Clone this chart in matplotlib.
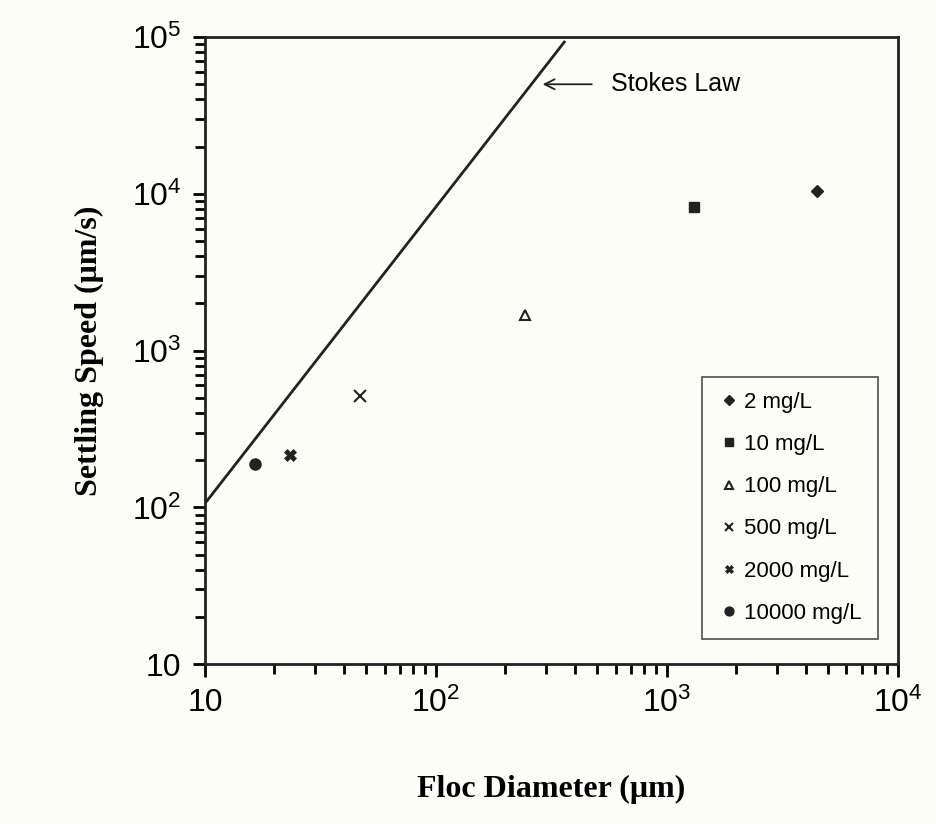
import matplotlib
matplotlib.use('Agg')
from matplotlib import pyplot as plt
from matplotlib.ticker import FixedLocator, FixedFormatter, LogLocator

labels = ["2 mg/L", "10 mg/L", "100 mg/L", "500 mg/L", "2000 mg/L", "10000 mg/L"]
diam = [4460, 1310, 243, 47, 23.3, 16.4]
speed = [10400, 8300, 1690, 516, 215, 189]
markers = ["D", "s", "^", "x", "X", "o"]
msizes = [6, 7, 7, 8, 8, 8]
filled = [True, True, False, False, True, True]

stokes_x = [10.2, 360]
stokes_y = [110, 93000]

plt.rcParams['font.family'] = ['Liberation Sans', 'DejaVu Sans']
plt.rcParams['mathtext.fontset'] = 'custom'
plt.rcParams['mathtext.rm'] = 'Liberation Sans'
plt.rcParams['mathtext.it'] = 'Liberation Sans'
plt.rcParams['mathtext.default'] = 'regular'
fig = plt.figure(figsize=(9.36, 8.24), dpi=100)
fig.patch.set_facecolor('#fdfdf8')
ax = fig.add_axes([0.219, 0.194, 0.74, 0.761])
ax.set_facecolor('#fdfdf8')
ax.set_xscale('log')
ax.set_yscale('log')
ax.set_xlim(10, 1e4)
ax.set_ylim(10, 1e5)

ax.plot(stokes_x, stokes_y, color='#222', lw=2)
for lab, x, y, m, s, f in zip(labels, diam, speed, markers, msizes, filled):
    if m == "X":
        ax.plot(x, y, marker=m, ms=s, color='#222', mfc='#222', mew=0.5, ls='none', label=lab)
    elif f:
        ax.plot(x, y, marker=m, ms=s, color='#222', ls='none', label=lab)
    else:
        ax.plot(x, y, marker=m, ms=s, color='#222', mfc='none', mew=1.5, ls='none', label=lab)

ax.annotate("Stokes Law", xy=(290, 50000), xytext=(575, 50000), fontsize=18,
            va='center', arrowprops=dict(arrowstyle='->', color='#222', lw=1.3,
                                         shrinkB=0, shrinkA=12))

leg = ax.legend(loc='lower right', bbox_to_anchor=(0.987, 0.022), fontsize=16,
                frameon=True, fancybox=False, edgecolor='#222', handletextpad=0.2,
                labelspacing=0.95, borderpad=0.7, handlelength=1.0, markerscale=0.8)
leg.get_frame().set_linewidth(1.2)
leg.get_frame().set_facecolor('#fdfdf8')

ax.xaxis.set_major_locator(FixedLocator([10, 100, 1000, 10000]))
ax.xaxis.set_major_formatter(FixedFormatter(["10", "$10^2$", "$10^3$", "$10^4$"]))
ax.yaxis.set_major_locator(FixedLocator([10, 100, 1000, 1e4, 1e5]))
ax.yaxis.set_major_formatter(FixedFormatter(["10", "$10^2$", "$10^3$", "$10^4$", "$10^5$"]))
ax.xaxis.set_minor_locator(LogLocator(subs=range(2, 10)))
ax.yaxis.set_minor_locator(LogLocator(subs=range(2, 10)))
ax.xaxis.set_minor_formatter(FixedFormatter([]))
ax.yaxis.set_minor_formatter(FixedFormatter([]))
ax.tick_params(which='major', length=9, width=2, labelsize=23, direction='out', pad=8)
ax.tick_params(which='minor', length=7, width=2, direction='out')
for sp in ax.spines.values():
    sp.set_linewidth(2)
    sp.set_color('#222')

ax.set_ylabel("Settling Speed (μm/s)", family='Liberation Serif', fontweight='bold',
              fontsize=23, labelpad=20)
ax.set_xlabel("Floc Diameter (μm)", family='Liberation Serif', fontweight='bold',
              fontsize=23, labelpad=40)

plt.savefig('out.png', dpi=100, facecolor=fig.get_facecolor())
